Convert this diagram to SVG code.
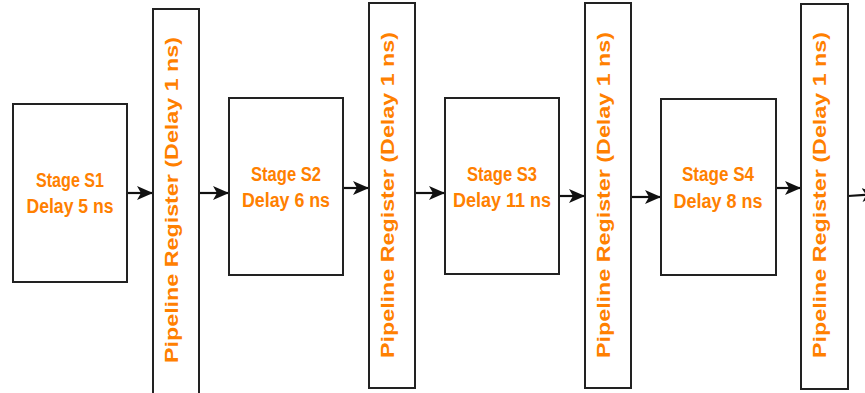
<svg xmlns="http://www.w3.org/2000/svg" width="865" height="393" viewBox="0 0 865 393">
<defs>
<style>
.box{fill:#fff;stroke:#222;stroke-width:2}
.lbl{font-family:"Liberation Sans",Arial,sans-serif;font-weight:bold;fill:#ff8000;text-anchor:middle}
.st{font-size:20px}
.rg{font-size:18.5px}
.conn{fill:none;stroke:#111;stroke-width:2.2}
</style>
<marker id="ah" markerUnits="userSpaceOnUse" viewBox="0 0 16 16" markerWidth="16" markerHeight="16" refX="15" refY="8" orient="auto">
<path d="M0,1 L16,8 L0,15 L4,8 Z" fill="#111"/>
</marker>
</defs>
<rect width="865" height="393" fill="#fff"/>
<g id="connectors">
<path class="conn" d="M127,193 H152" marker-end="url(#ah)"/>
<path class="conn" d="M199,193 H228" marker-end="url(#ah)"/>
<path class="conn" d="M343,188 H368" marker-end="url(#ah)"/>
<path class="conn" d="M415,193 H444" marker-end="url(#ah)"/>
<path class="conn" d="M559,196 H584" marker-end="url(#ah)"/>
<path class="conn" d="M631,197 H660" marker-end="url(#ah)"/>
<path class="conn" d="M776,188 H800" marker-end="url(#ah)"/>
<path class="conn" d="M848,196 L877,194" marker-end="url(#ah)"/>
</g>
<g id="s1">
<rect class="box" x="13" y="104" width="114" height="178"/>
<text class="lbl st" x="70" y="187" textLength="68" lengthAdjust="spacingAndGlyphs">Stage S1</text>
<text class="lbl st" x="70" y="213" textLength="87" lengthAdjust="spacingAndGlyphs">Delay 5 ns</text>
</g>
<g id="r1">
<rect class="box" x="153" y="9" width="46" height="390"/>
<text class="lbl rg" transform="translate(178,200) rotate(-90)" x="0" y="0" textLength="326" lengthAdjust="spacingAndGlyphs">Pipeline Register (Delay 1 ns)</text>
</g>
<g id="s2">
<rect class="box" x="229" y="98" width="114" height="177"/>
<text class="lbl st" x="286" y="181" textLength="70" lengthAdjust="spacingAndGlyphs">Stage S2</text>
<text class="lbl st" x="286" y="207" textLength="88" lengthAdjust="spacingAndGlyphs">Delay 6 ns</text>
</g>
<g id="r2">
<rect class="box" x="369" y="3" width="46" height="385"/>
<text class="lbl rg" transform="translate(394,195) rotate(-90)" x="0" y="0" textLength="326" lengthAdjust="spacingAndGlyphs">Pipeline Register (Delay 1 ns)</text>
</g>
<g id="s3">
<rect class="box" x="445" y="98" width="114" height="176"/>
<text class="lbl st" x="502" y="181" textLength="70" lengthAdjust="spacingAndGlyphs">Stage S3</text>
<text class="lbl st" x="502" y="207" textLength="98" lengthAdjust="spacingAndGlyphs">Delay 11 ns</text>
</g>
<g id="r3">
<rect class="box" x="585" y="3" width="46" height="385"/>
<text class="lbl rg" transform="translate(610,195) rotate(-90)" x="0" y="0" textLength="326" lengthAdjust="spacingAndGlyphs">Pipeline Register (Delay 1 ns)</text>
</g>
<g id="s4">
<rect class="box" x="661" y="99" width="115" height="176"/>
<text class="lbl st" x="718" y="181" textLength="72" lengthAdjust="spacingAndGlyphs">Stage S4</text>
<text class="lbl st" x="718" y="208" textLength="89" lengthAdjust="spacingAndGlyphs">Delay 8 ns</text>
</g>
<g id="r4">
<rect class="box" x="801" y="4" width="47" height="385"/>
<text class="lbl rg" transform="translate(826,195) rotate(-90)" x="0" y="0" textLength="326" lengthAdjust="spacingAndGlyphs">Pipeline Register (Delay 1 ns)</text>
</g>
</svg>
